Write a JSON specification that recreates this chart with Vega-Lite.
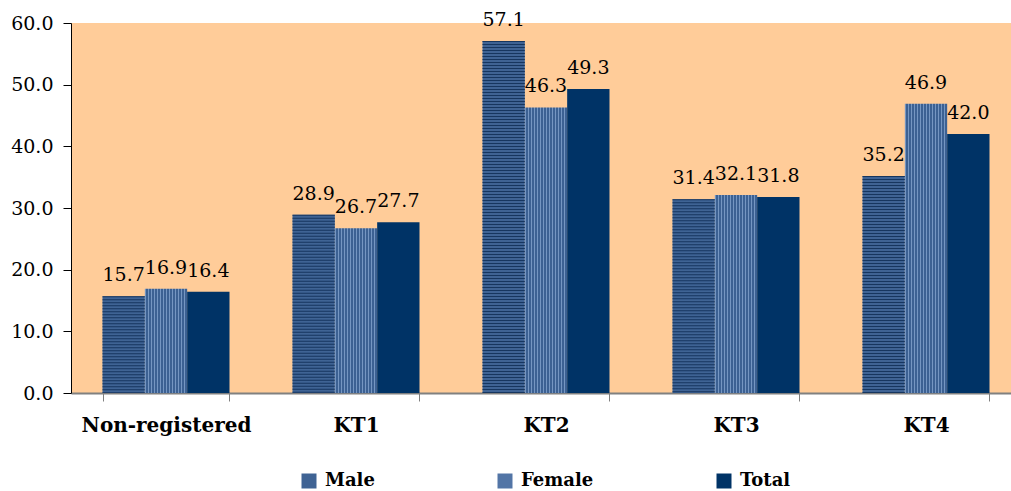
{
  "$schema": "https://vega.github.io/schema/vega-lite/v6.json",
  "autosize": "none",
  "width": 940,
  "height": 370,
  "padding": {"left": 71, "top": 23, "right": 0, "bottom": 98},
  "background": "white",
  "config": {
    "font": "DejaVu Serif",
    "view": {"fill": "#FFCC99", "stroke": null}
  },
  "data": {
    "values": [
      {"cat": "Non-registered", "series": "Male", "value": 15.7},
      {"cat": "Non-registered", "series": "Female", "value": 16.9},
      {"cat": "Non-registered", "series": "Total", "value": 16.4},
      {"cat": "KT1", "series": "Male", "value": 28.9},
      {"cat": "KT1", "series": "Female", "value": 26.7},
      {"cat": "KT1", "series": "Total", "value": 27.7},
      {"cat": "KT2", "series": "Male", "value": 57.1},
      {"cat": "KT2", "series": "Female", "value": 46.3},
      {"cat": "KT2", "series": "Total", "value": 49.3},
      {"cat": "KT3", "series": "Male", "value": 31.4},
      {"cat": "KT3", "series": "Female", "value": 32.1},
      {"cat": "KT3", "series": "Total", "value": 31.8},
      {"cat": "KT4", "series": "Male", "value": 35.2},
      {"cat": "KT4", "series": "Female", "value": 46.9},
      {"cat": "KT4", "series": "Total", "value": 42.0}
    ]
  },
  "encoding": {
    "x": {
      "field": "cat", "type": "nominal", "sort": null,
      "scale": {"range": [0, 950], "paddingInner": 0.3316, "paddingOuter": 0.1658},
      "axis": {
        "title": null, "labelAngle": 0, "labelFont": "DejaVu Serif", "labelFontWeight": "bold",
        "labelFontSize": 20, "labelColor": "black", "labelPadding": 14,
        "domainColor": "#808080", "domainWidth": 2, "tickColor": "#808080", "tickSize": 8,
        "tickBand": "extent", "grid": false
      }
    },
    "xOffset": {"field": "series", "type": "nominal", "scale": {"domain": ["Male", "Female", "Total"], "paddingInner": 0, "paddingOuter": 0}},
    "y": {
      "field": "value", "type": "quantitative",
      "scale": {"domain": [0, 60], "nice": false},
      "axis": {
        "title": null, "values": [0, 10, 20, 30, 40, 50, 60], "format": ".1f",
        "labelFont": "DejaVu Serif", "labelFontSize": 19, "labelColor": "black",
        "labelPadding": 10, "tickSize": 8, "tickColor": "black", "domainColor": "black",
        "grid": false
      }
    }
  },
  "layer": [
    {
      "mark": {"type": "bar"},
      "encoding": {
        "color": {
          "condition": {
            "test": "datum.series === 'Female'",
            "value": {
              "gradient": "linear", "x1": 0, "y1": 0, "x2": 1, "y2": 0,
              "stops": [
                {"offset": 0, "color": "#7596c2"}, {"offset": 0.0238, "color": "#7596c2"}, {"offset": 0.0238, "color": "#3c6193"}, {"offset": 0.0714, "color": "#3c6193"},
                {"offset": 0.0714, "color": "#7596c2"}, {"offset": 0.0952, "color": "#7596c2"}, {"offset": 0.0952, "color": "#3c6193"}, {"offset": 0.1429, "color": "#3c6193"},
                {"offset": 0.1429, "color": "#7596c2"}, {"offset": 0.1667, "color": "#7596c2"}, {"offset": 0.1667, "color": "#3c6193"}, {"offset": 0.2143, "color": "#3c6193"},
                {"offset": 0.2143, "color": "#7596c2"}, {"offset": 0.2381, "color": "#7596c2"}, {"offset": 0.2381, "color": "#3c6193"}, {"offset": 0.2857, "color": "#3c6193"},
                {"offset": 0.2857, "color": "#7596c2"}, {"offset": 0.3095, "color": "#7596c2"}, {"offset": 0.3095, "color": "#3c6193"}, {"offset": 0.3571, "color": "#3c6193"},
                {"offset": 0.3571, "color": "#7596c2"}, {"offset": 0.3810, "color": "#7596c2"}, {"offset": 0.3810, "color": "#3c6193"}, {"offset": 0.4286, "color": "#3c6193"},
                {"offset": 0.4286, "color": "#7596c2"}, {"offset": 0.4524, "color": "#7596c2"}, {"offset": 0.4524, "color": "#3c6193"}, {"offset": 0.5, "color": "#3c6193"},
                {"offset": 0.5, "color": "#7596c2"}, {"offset": 0.5238, "color": "#7596c2"}, {"offset": 0.5238, "color": "#3c6193"}, {"offset": 0.5714, "color": "#3c6193"},
                {"offset": 0.5714, "color": "#7596c2"}, {"offset": 0.5952, "color": "#7596c2"}, {"offset": 0.5952, "color": "#3c6193"}, {"offset": 0.6429, "color": "#3c6193"},
                {"offset": 0.6429, "color": "#7596c2"}, {"offset": 0.6667, "color": "#7596c2"}, {"offset": 0.6667, "color": "#3c6193"}, {"offset": 0.7143, "color": "#3c6193"},
                {"offset": 0.7143, "color": "#7596c2"}, {"offset": 0.7381, "color": "#7596c2"}, {"offset": 0.7381, "color": "#3c6193"}, {"offset": 0.7857, "color": "#3c6193"},
                {"offset": 0.7857, "color": "#7596c2"}, {"offset": 0.8095, "color": "#7596c2"}, {"offset": 0.8095, "color": "#3c6193"}, {"offset": 0.8571, "color": "#3c6193"},
                {"offset": 0.8571, "color": "#7596c2"}, {"offset": 0.8810, "color": "#7596c2"}, {"offset": 0.8810, "color": "#3c6193"}, {"offset": 0.9286, "color": "#3c6193"},
                {"offset": 0.9286, "color": "#7596c2"}, {"offset": 0.9524, "color": "#7596c2"}, {"offset": 0.9524, "color": "#3c6193"}, {"offset": 1, "color": "#3c6193"}
              ]
            }
          },
          "field": "series", "type": "nominal",
          "scale": {"domain": ["Male", "Female", "Total"], "range": ["#3f6394", "#5275a6", "#003366"]},
          "legend": {
            "title": null, "orient": "none", "direction": "horizontal",
            "legendX": 229, "legendY": 449,
            "symbolType": "square", "symbolSize": 225, "symbolStrokeWidth": 0, "symbolOpacity": 1,
            "labelFont": "DejaVu Serif", "labelFontWeight": "bold", "labelFontSize": 18, "labelColor": "black",
            "labelOffset": 7, "columnPadding": 121
          }
        }
      }
    },
    {
      "transform": [{"filter": "datum.series === 'Male'"}],
      "mark": {"type": "rule", "strokeWidth": 42.3, "strokeDash": [1, 2], "color": "#17365f"},
      "encoding": {
        "y2": {"datum": 0}
      }
    },
    {
      "mark": {"type": "text", "baseline": "alphabetic", "dy": -15, "fontSize": 19, "font": "DejaVu Serif", "color": "black"},
      "encoding": {
        "text": {"field": "value", "type": "quantitative", "format": ".1f"}
      }
    }
  ]
}
